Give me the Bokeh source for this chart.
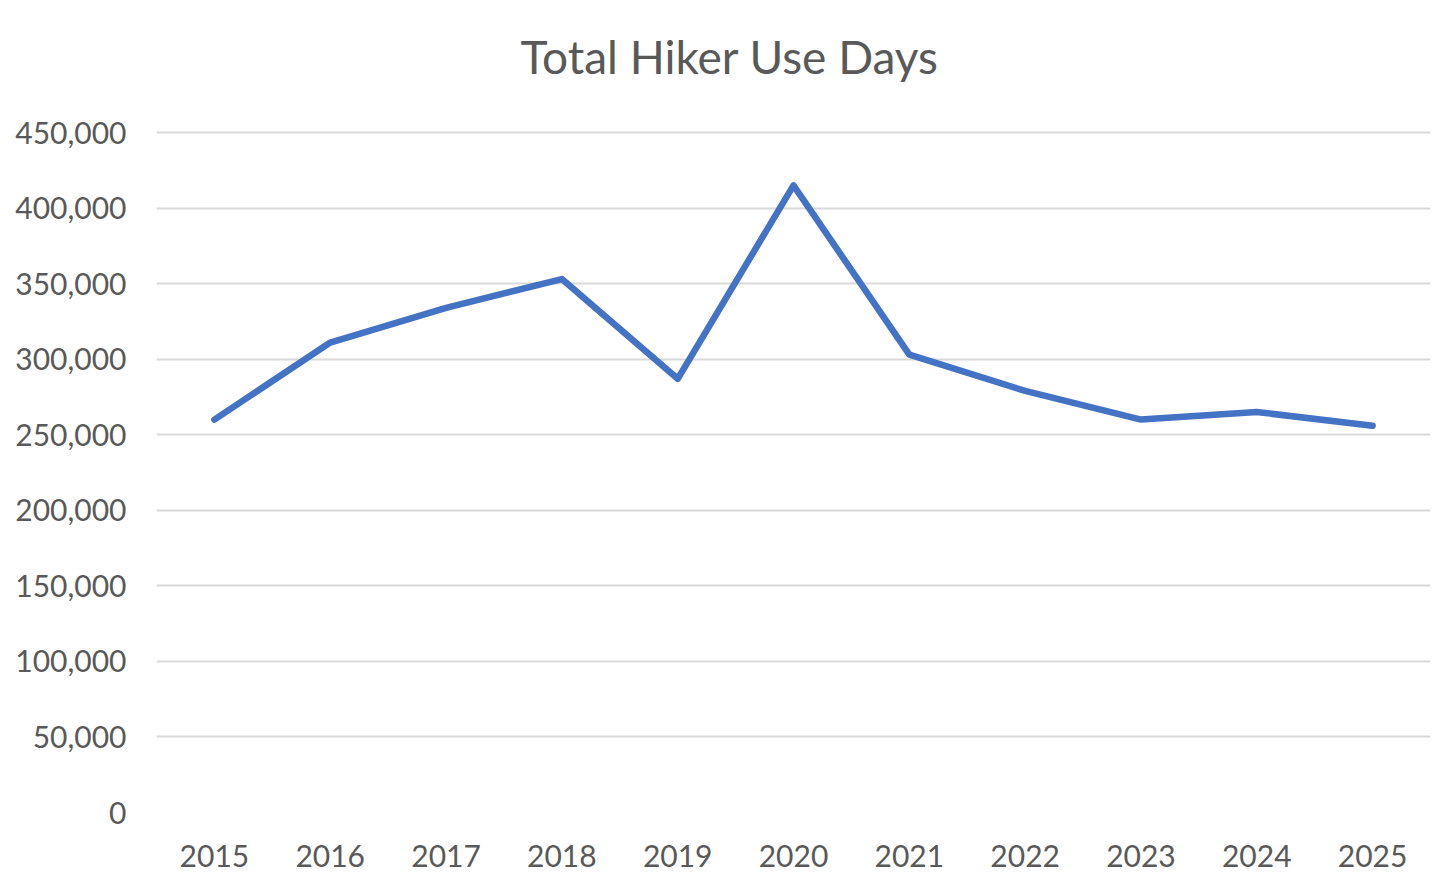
from bokeh.plotting import figure
from bokeh.models import Range1d, NumeralTickFormatter, FixedTicker, Title
from bokeh.embed import file_html
from bokeh.resources import INLINE

years = [2015, 2016, 2017, 2018, 2019, 2020, 2021, 2022, 2023, 2024, 2025]
hiker_use_days = [260000, 311000, 334000, 353000, 287000, 415000, 303000, 279000, 260000, 265000, 256000]
y_ticks = [0, 50000, 100000, 150000, 200000, 250000, 300000, 350000, 400000, 450000]
title_text = "Total Hiker Use Days"

FONT = "Lato"
GREY = "#595959"

# frame spans y=105..812 on the page; 450,000 should sit at y=132
frame_top, frame_bottom, top_tick_px = 105, 812, 132
y_end = y_ticks[-1] * (frame_bottom - frame_top) / (frame_bottom - top_tick_px)

p = figure(width=1440, height=872, output_backend="svg", toolbar_location=None,
           x_range=Range1d(2014.5, 2025.5), y_range=Range1d(0, y_end),
           min_border_left=156, min_border_right=10, min_border_top=frame_top,
           min_border_bottom=872 - frame_bottom)

p.line(years, hiker_use_days, line_color="#4472C4", line_width=6.5, line_join="round", line_cap="round")

title = Title(text=title_text, align="left", offset=364, standoff=44,
              text_font=FONT, text_font_size="46px", text_color=GREY, text_font_style="normal")
p.add_layout(title, "above")

p.outline_line_color = None
p.xgrid.grid_line_color = None
p.ygrid.grid_line_color = "#D9D9D9"
p.ygrid.grid_line_width = 2

p.yaxis.ticker = FixedTicker(ticks=y_ticks)
p.yaxis.formatter = NumeralTickFormatter(format="0,0")
p.xaxis.ticker = FixedTicker(ticks=years)

for ax in (p.xaxis, p.yaxis):
    ax.axis_line_color = None
    ax.major_tick_line_color = None
    ax.minor_tick_line_color = None
    ax.major_tick_out = 0
    ax.major_tick_in = 0
    ax.major_label_text_font = FONT
    ax.major_label_text_font_size = "30px"
    ax.major_label_text_color = GREY

p.yaxis.major_label_standoff = 30
p.xaxis.major_label_standoff = 32

open("out.html", "w").write(file_html(p, INLINE))
